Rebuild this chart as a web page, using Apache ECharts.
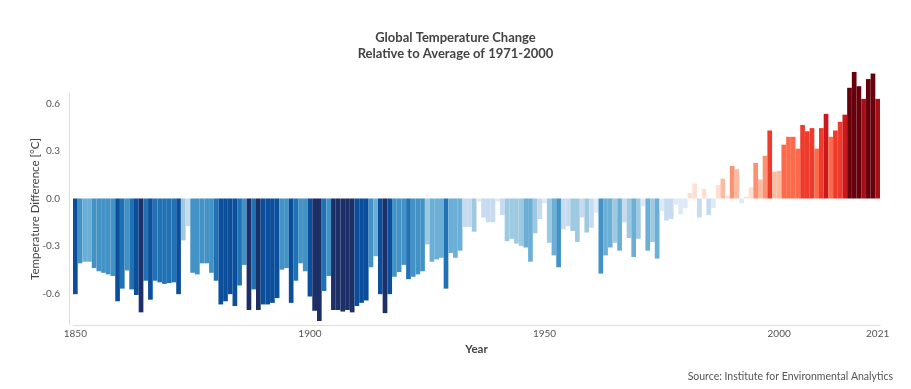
<!DOCTYPE html>
<html>
<head>
<meta charset="utf-8">
<script src="https://cdn.jsdelivr.net/npm/echarts@6/dist/echarts.min.js"></script>
<style>
  html, body { margin: 0; padding: 0; background: #ffffff; }
  #chart { width: 911px; height: 389px; }
</style>
</head>
<body>
<div id="chart"></div>
<script>
// ---- Data -------------------------------------------------------------
const firstYear = 1850;
const lastYear = 2021;
const years = [];
for (let y = firstYear; y <= lastYear; y++) years.push(String(y));

// Annual temperature difference (°C) relative to the 1971-2000 average
const anomalies = [
  // 1850-1859
  -0.605, -0.41, -0.40, -0.40, -0.44, -0.46, -0.47, -0.48, -0.49, -0.65,
  // 1860-1869
  -0.57, -0.455, -0.575, -0.61, -0.72, -0.52, -0.64, -0.52, -0.53, -0.54,
  // 1870-1879
  -0.535, -0.53, -0.605, -0.265, -0.175, -0.47, -0.48, -0.41, -0.41, -0.47,
  // 1880-1889
  -0.52, -0.67, -0.65, -0.605, -0.68, -0.55, -0.42, -0.705, -0.575, -0.705,
  // 1890-1899
  -0.67, -0.67, -0.66, -0.63, -0.45, -0.44, -0.66, -0.52, -0.41, -0.46,
  // 1900-1909
  -0.62, -0.71, -0.775, -0.585, -0.49, -0.705, -0.705, -0.715, -0.705, -0.72,
  // 1910-1919
  -0.68, -0.66, -0.645, -0.435, -0.365, -0.605, -0.725, -0.605, -0.495, -0.465,
  // 1920-1929
  -0.42, -0.51, -0.495, -0.48, -0.46, -0.29, -0.40, -0.385, -0.375, -0.57,
  // 1930-1939
  -0.345, -0.375, -0.33, -0.18, -0.18, -0.21, -0.02, -0.12, -0.15, -0.15,
  // 1940-1949
  -0.02, -0.105, -0.27, -0.255, -0.285, -0.30, -0.31, -0.40, -0.22, -0.13,
  // 1950-1959
  -0.03, -0.28, -0.36, -0.435, -0.195, -0.175, -0.205, -0.275, -0.12, -0.215,
  // 1960-1969
  -0.185, -0.09, -0.475, -0.36, -0.31, -0.28, -0.33, -0.15, -0.25, -0.37,
  // 1970-1979
  -0.255, -0.05, -0.33, -0.275, -0.38, -0.08, -0.14, -0.13, -0.04, -0.10,
  // 1980-1989
  -0.06, 0.035, 0.095, -0.12, 0.06, -0.105, -0.06, 0.085, 0.125, 0.02,
  // 1990-1999
  0.205, 0.185, -0.03, 0.01, 0.07, 0.225, 0.12, 0.27, 0.43, 0.17,
  // 2000-2009
  0.175, 0.34, 0.39, 0.39, 0.315, 0.465, 0.425, 0.445, 0.315, 0.445,
  // 2010-2019
  0.535, 0.39, 0.43, 0.485, 0.53, 0.70, 0.80, 0.71, 0.63, 0.755,
  // 2020-2021
  0.79, 0.63
];

const xTickYears = ['1850', '1900', '1950', '2000', '2021'];
const yTickValues = [-0.6, -0.3, 0.0, 0.3, 0.6];

const titleLines = ['Global Temperature Change', 'Relative to Average of 1971-2000'];
const sourceText = 'Source: Institute for Environmental Analytics';

// colour bins (upper edges) and palette
const colorBreaks = [-0.7, -0.6, -0.5, -0.4, -0.3, -0.2, -0.1, 0, 0.1, 0.2, 0.3, 0.4, 0.5, 0.6, 0.7];
const palette = [
  '#1c2f66', '#0b4f9c', '#2171b5', '#4292c6', '#6baed6', '#9ecae1', '#c6dbef', '#deebf7',
  '#fee0d2', '#fcbba1', '#fc9272', '#fb6a4a', '#ef3b2c', '#cb181d', '#a50f15', '#67000d'
];

function colorFor(v) {
  let i = 0;
  while (i < colorBreaks.length && v >= colorBreaks[i]) i++;
  return palette[i];
}

// ---- Chart ------------------------------------------------------------
const chart = echarts.init(document.getElementById('chart'), null, { renderer: 'canvas' });

const FONT = 'Lato';
const titleStyle = {
  fontFamily: FONT,
  fontSize: 13,
  fontWeight: 'bold',
  color: '#444444'
};

chart.setOption({
  animation: false,
  backgroundColor: '#ffffff',
  textStyle: { fontFamily: FONT },
  title: [
    { text: titleLines[0], left: 'center', top: 26, textStyle: titleStyle },
    { text: titleLines[1], left: 'center', top: 42, textStyle: titleStyle },
    {
      text: sourceText,
      right: 13,
      top: 366,
      textStyle: {
        fontFamily: FONT,
        fontSize: 10.5,
        fontWeight: 'normal',
        color: '#555555'
      }
    }
  ],
  grid: { left: 73, right: 31, top: 93, bottom: 64, containLabel: false },
  xAxis: {
    type: 'category',
    data: years,
    boundaryGap: true,
    axisLine: { show: true, onZero: false, lineStyle: { color: '#dddddd', width: 1 } },
    axisTick: { show: false },
    splitLine: { show: false },
    axisLabel: {
      interval: function (index, value) { return xTickYears.indexOf(value) !== -1; },
      color: '#555555',
      fontSize: 10,
      margin: 4,
      fontFamily: FONT
    },
    name: 'Year',
    nameLocation: 'middle',
    nameGap: 18,
    nameMoveOverlap: false,
    nameTextStyle: { fontSize: 11.5, fontWeight: 'bold', color: '#444444', fontFamily: FONT }
  },
  yAxis: {
    type: 'value',
    min: -0.8,
    max: 0.667,
    offset: 4,
    axisLine: { show: true, lineStyle: { color: '#dddddd', width: 1 } },
    axisTick: { show: false },
    splitLine: { show: false },
    axisLabel: {
      customValues: yTickValues,
      formatter: function (v) { return Number(v).toFixed(1); },
      color: '#555555',
      fontSize: 10,
      margin: 9,
      fontFamily: FONT
    },
    name: 'Temperature Difference [°C]',
    nameLocation: 'middle',
    nameGap: 28,
    nameMoveOverlap: false,
    nameTextStyle: { fontSize: 11.5, color: '#444444', fontFamily: FONT }
  },
  series: [
    {
      type: 'bar',
      data: anomalies.map(function (v) { return { value: v, itemStyle: { color: colorFor(v) } }; }),
      barCategoryGap: '0%',
      barGap: '0%',
      clip: false,
      silent: true
    }
  ]
});
</script>
</body>
</html>
